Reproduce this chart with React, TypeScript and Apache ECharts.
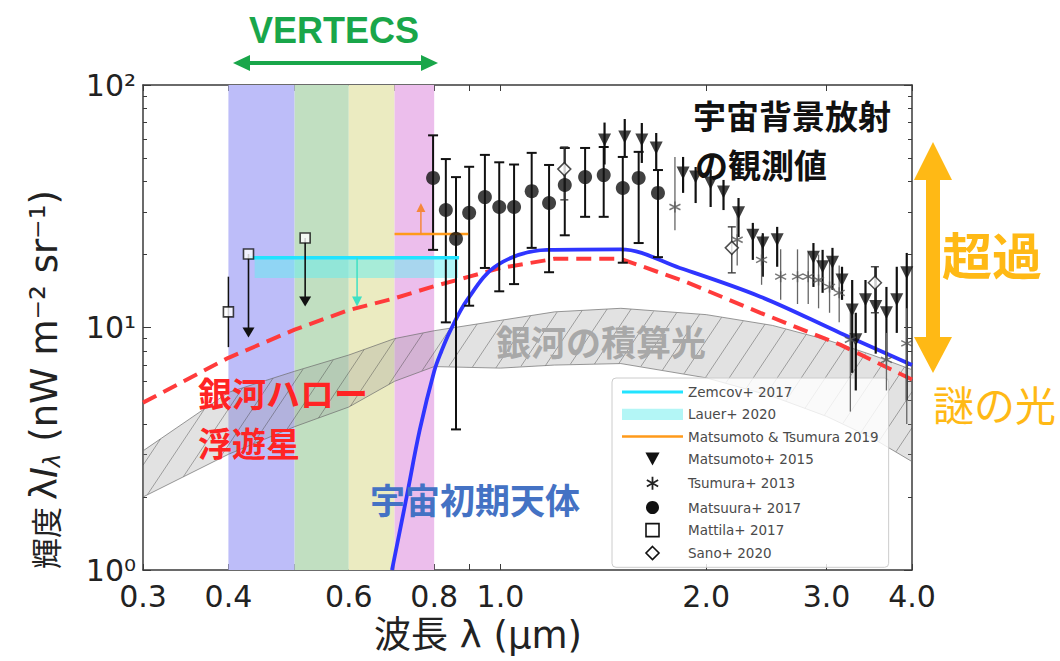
import React, { useEffect, useRef } from "react";
import * as echarts from "echarts";

// ---------- axes ----------
const xTickValues = [0.3, 0.4, 0.5, 0.6, 0.7, 0.8, 0.9, 1, 2, 3, 4];
const xLabelValues = [0.3, 0.4, 0.6, 0.8, 1, 2, 3, 4];
const yMajorValues = [1, 10, 100];
const yMinorValues = [2, 3, 4, 5, 6, 7, 8, 9, 20, 30, 40, 50, 60, 70, 80, 90];
const superscripts = ["⁰", "¹", "²"];

// ---------- VERTECS filter bands ----------
const filterEdges = [0.4, 0.5, 0.6, 0.7, 0.8];
const filterColors = ["#bdbdf9", "#c1dfc1", "#ebebc1", "#ecbeec"];

// ---------- integrated galaxy light (band) ----------
const galaxyX = [0.3, 0.4, 0.5, 0.6, 0.7, 0.8, 1.0, 1.2, 1.5, 2.0, 2.5, 3.0, 3.5, 4.0];
const galaxyUpper = [3.1, 5.4, 6.6, 7.7, 9.0, 9.7, 10.7, 11.6, 12.0, 11.3, 10.2, 8.9, 7.7, 6.7];
const galaxyLower = [2.0, 3.0, 3.9, 4.7, 6.0, 6.9, 6.8, 7.0, 7.1, 6.2, 5.2, 4.3, 3.5, 2.8];

// ---------- galactic halo / intrahalo stars (red dashed) ----------
const haloX = [0.3, 0.4, 0.5, 0.6, 0.7, 0.8, 0.9, 1.0, 1.2, 1.5, 1.87, 2.4, 3.14, 4.0];
const haloY = [4.9, 7.5, 9.8, 11.8, 13.2, 14.8, 16.2, 17.6, 19.2, 19.2, 15.4, 11.5, 8.5, 6.1];

// ---------- early-universe objects (blue) ----------
const earlyX = [0.694, 0.729, 0.762, 0.8, 0.82, 0.843, 0.894, 0.99, 1.17, 1.5, 1.83, 2.4, 3.14, 4.0];
const earlyY = [1.0, 2.0, 3.78, 6.6, 8.0, 9.6, 13, 18.1, 20.9, 21, 17.6, 13.4, 9.5, 7.0];

// ---------- Zemcov+ 2017 ----------
const zemcovX = [0.43, 0.87];
const zemcovY = [19.4, 19.4];
const zemcovArrow = [0.617, 19.4, 12.2];

// ---------- Lauer+ 2020 ----------
const lauerX = [0.437, 0.867];
const lauerY = [16.0, 19.4];

// ---------- Matsumoto & Tsumura 2019 ----------
const mtX = [0.7, 0.897];
const mtY = [24.3, 24.3];
const mtArrow = [0.765, 24.3, 32.6];

// ---------- Matsumoto+ 2015 (down triangles) ----------
const m15X = [1.42, 1.52, 1.61, 1.69, 1.85, 1.93, 2.03, 2.12, 2.23, 2.34, 2.42, 2.54, 2.87, 2.96, 3.06, 3.16, 3.27, 3.31, 3.42, 3.54, 3.67, 3.8, 3.93];
const m15Y = [59.3, 61, 59.3, 55, 43.4, 41.7, 39.4, 36.2, 29.7, 24, 22.3, 23, 19.5, 17.8, 18.6, 15.7, 11.8, 8.9, 13, 12.2, 11.5, 13, 16.8];
const m15Lo = [47, 50.5, 47.7, 44.6, 35.9, 32.6, 31.4, 30.5, 23.6, 19, 16.2, 17.8, 14.7, 13.9, 14.3, 13, 6.5, 5.5, 9.5, 7.8, 7.35, 9.5, 5.0];
const m15Hi = [70, 72.4, 69.7, 63.4, 50.5, 45.9, 44.6, 40.6, 34.2, 27, 24.5, 26, 22.3, 20.9, 21.3, 17.8, 15.7, 11.5, 15.7, 17.8, 14.7, 17.8, 20.3];

// ---------- Tsumura+ 2013 (asterisks) ----------
const t13X = [1.8, 2.22, 2.41, 2.57, 2.72, 2.82, 2.92, 3.03, 3.13, 3.25, 3.67, 3.93];
const t13Y = [31.4, 23, 19, 16.2, 16.2, 16.2, 15.7, 14.7, 13.9, 8.9, 7.35, 8.6];
const t13Lo = [25.2, 18, 15, 13, 12.5, 12.5, 12, 11.5, 10.5, 4.5, 5.5, 4.0];
const t13Hi = [50.5, 30, 24, 21, 21, 20.5, 20, 19, 18, 12, 9.5, 12];

// ---------- Matsuura+ 2017 (filled circles) ----------
const m17X = [0.797, 0.832, 0.861, 0.9, 0.949, 0.996, 1.047, 1.111, 1.178, 1.242, 1.33, 1.416, 1.51, 1.593, 1.7];
const m17Y = [41.4, 30.5, 23.2, 29.7, 34.5, 31.4, 31.4, 36.5, 32.6, 38.7, 41.7, 42.5, 37.6, 41.4, 35.9];
const m17Lo = [20.9, 10.5, 3.8, 12.3, 17.6, 14.1, 15.1, 21.3, 16.9, 24, 28.6, 28.6, 18.5, 22.3, 19.5];
const m17Hi = [62, 49.5, 41.7, 46, 51.5, 48, 47, 52.5, 46.8, 55, 55, 55.5, 50.5, 53, 44.6];

// ---------- Mattila+ 2017 (open squares) ----------
const mattilaX = [0.4, 0.428, 0.518];
const mattilaY = [11.6, 20.1, 23.4];
const mattilaErrX = [0.4];
const mattilaErrLo = [8.3];
const mattilaErrHi = [16.2];
const mattilaLimX = [0.428, 0.518];
const mattilaLimTo = [9.1, 12.2];

// ---------- Sano+ 2020 (open diamonds) ----------
const sanoX = [1.24, 2.18, 3.53];
const sanoY = [45, 21.3, 15.3];
const sanoLo = [33.6, 16.8, 11.5];
const sanoHi = [55.5, 26, 17.8];

const FONT = "'DejaVu Sans', 'Noto Sans CJK JP', sans-serif";
const CJK = "'Noto Sans CJK JP', sans-serif";
const LATIN = "'DejaVu Sans', sans-serif";

const TRI_DOWN = "path://M0,0L12,0L6,11Z";
const ASTERISK = "path://M6,0L6,12M0.8,3L11.2,9M0.8,9L11.2,3";
const SQUARE = "path://M0,0H10V10H0Z";
const DIAMOND = "path://M6,0L12,6L6,12L0,6Z";

function errorBars(name: string, xs: number[], lo: number[], hi: number[], color: string, width: number, cap: number) {
  return {
    type: "custom",
    name,
    z: 5,
    clip: true,
    silent: true,
    data: xs.map((x, i) => [x, lo[i], hi[i]]),
    encode: { x: 0, y: [1, 2] },
    renderItem: (_p: any, api: any) => {
      const x = api.value(0);
      const a = api.coord([x, api.value(2)]);
      const b = api.coord([x, api.value(1)]);
      const st = { stroke: color, lineWidth: width };
      const children: any[] = [{ type: "line", shape: { x1: a[0], y1: a[1], x2: b[0], y2: b[1] }, style: st }];
      if (cap > 0) {
        children.push({ type: "line", shape: { x1: a[0] - cap, y1: a[1], x2: a[0] + cap, y2: a[1] }, style: st });
        children.push({ type: "line", shape: { x1: b[0] - cap, y1: b[1], x2: b[0] + cap, y2: b[1] }, style: st });
      }
      return { type: "group", children };
    },
  };
}

function arrows(name: string, xs: number[], from: number[], to: number[], color: string, width: number, headW: number, headL: number) {
  return {
    type: "custom",
    name,
    z: 6,
    clip: true,
    silent: true,
    data: xs.map((x, i) => [x, from[i], to[i]]),
    encode: { x: 0, y: [1, 2] },
    renderItem: (_p: any, api: any) => {
      const x = api.value(0);
      const a = api.coord([x, api.value(1)]);
      const b = api.coord([x, api.value(2)]);
      const dir = b[1] > a[1] ? 1 : -1;
      return {
        type: "group",
        children: [
          { type: "line", shape: { x1: a[0], y1: a[1], x2: b[0], y2: b[1] - dir * headL * 0.6 }, style: { stroke: color, lineWidth: width } },
          {
            type: "polygon",
            shape: { points: [[b[0], b[1]], [b[0] - headW / 2, b[1] - dir * headL], [b[0] + headW / 2, b[1] - dir * headL]] },
            style: { fill: color },
          },
        ],
      };
    },
  };
}

function interp(pts: number[][], px: number) {
  if (px <= pts[0][0]) return pts[0][1];
  for (let i = 1; i < pts.length; i++) {
    if (px <= pts[i][0]) {
      const t = (px - pts[i - 1][0]) / (pts[i][0] - pts[i - 1][0]);
      return pts[i - 1][1] + t * (pts[i][1] - pts[i - 1][1]);
    }
  }
  return pts[pts.length - 1][1];
}

function label(text: string, x: number, y: number, fill: string, font: string, lineHeight = 36) {
  return {
    type: "text",
    x,
    y,
    z: 100,
    style: { text, fill, font, lineHeight, align: "left", verticalAlign: "middle", textAlign: "left", textVerticalAlign: "middle" },
  };
}

function buildOption() {
  const axisLineStyle = { color: "#3a3a3a", width: 1.5 };
  const tickStyle = { color: "#3a3a3a", width: 1 };
  const logX = { type: "log", logBase: 10, min: 0.3, max: 4, splitLine: { show: false } };
  const logY = { type: "log", logBase: 10, min: 1, max: 100, splitLine: { show: false } };

  return {
    animation: false,
    backgroundColor: "#ffffff",
    grid: { left: 143, right: 148, top: 85, bottom: 91, containLabel: false, outerBoundsMode: "none" },
    xAxis: [
      {
        ...logX,
        position: "bottom",
        axisLine: { show: true, lineStyle: axisLineStyle },
        axisTick: { show: true, inside: true, length: 6, customValues: xTickValues, lineStyle: tickStyle },
        axisLabel: {
          show: true,
          customValues: xLabelValues,
          formatter: (v: number) => v.toFixed(1),
          fontSize: 30,
          fontFamily: LATIN,
          color: "#222",
          margin: 11,
        },
        name: "波長 λ (μm)",
        nameLocation: "middle",
        nameGap: 47,
        nameTextStyle: { fontSize: 37, fontFamily: FONT, color: "#222", padding: [0, 99, 0, 0] },
      },
      {
        ...logX,
        position: "top",
        axisLine: { show: true, lineStyle: axisLineStyle },
        axisTick: { show: true, inside: true, length: 6, customValues: xTickValues, lineStyle: tickStyle },
        axisLabel: { show: false },
      },
    ],
    yAxis: [
      {
        ...logY,
        position: "left",
        axisLine: { show: true, lineStyle: axisLineStyle },
        axisTick: { show: true, inside: true, length: 8, customValues: yMajorValues, lineStyle: tickStyle },
        axisLabel: {
          show: true,
          customValues: yMajorValues,
          formatter: (v: number) => "10" + superscripts[Math.round(Math.log10(v))],
          fontSize: 30,
          fontFamily: LATIN,
          color: "#222",
          margin: 7,
        },
        name: "{c|輝度 }{m|λ}{i|I}{s|λ}{m| (nW m⁻² sr⁻¹)}{p|}",
        nameLocation: "middle",
        nameRotate: 90,
        nameGap: 80,
        nameTextStyle: {
          fontSize: 37,
          fontFamily: FONT,
          color: "#222",
          rich: {
            c: { fontSize: 31, fontFamily: CJK, color: "#222" },
            m: { fontSize: 37, fontFamily: LATIN, color: "#222" },
            i: { fontSize: 37, fontStyle: "italic", fontFamily: LATIN, color: "#222" },
            s: { fontSize: 23, fontStyle: "italic", verticalAlign: "bottom", fontFamily: LATIN, color: "#222" },
            p: { width: 104, fontSize: 37 },
          },
        },
      },
      {
        ...logY,
        position: "left",
        axisLine: { show: false },
        axisTick: { show: true, inside: true, length: 4, customValues: yMinorValues, lineStyle: tickStyle },
        axisLabel: { show: false },
      },
      {
        ...logY,
        position: "right",
        axisLine: { show: true, lineStyle: axisLineStyle },
        axisTick: { show: true, inside: true, length: 8, customValues: yMajorValues, lineStyle: tickStyle },
        axisLabel: { show: false },
      },
      {
        ...logY,
        position: "right",
        axisLine: { show: false },
        axisTick: { show: true, inside: true, length: 4, customValues: yMinorValues, lineStyle: tickStyle },
        axisLabel: { show: false },
      },
    ],
    legend: {
      orient: "vertical",
      left: 612,
      top: 378,
      padding: [7, 10, 7, 10],
      itemGap: 8.3,
      itemWidth: 61,
      itemHeight: 13,
      backgroundColor: "rgba(255,255,255,0.82)",
      borderColor: "#cccccc",
      borderWidth: 1,
      borderRadius: 4,
      selectedMode: false,
      textStyle: { fontSize: 13.5, color: "#4a4a4a", fontFamily: LATIN },
      data: [
        { name: "Zemcov+ 2017", icon: "path://M0,0H60V3H0Z", itemStyle: { color: "#22e3ff", borderWidth: 0 } },
        { name: "Lauer+ 2020", icon: "path://M0,0H60V11H0Z", itemStyle: { color: "#b3f6f6", borderWidth: 0 } },
        { name: "Matsumoto & Tsumura 2019", icon: "path://M0,0H60V2.5H0Z", itemStyle: { color: "#ff9a1a", borderWidth: 0 } },
        { name: "Matsumoto+ 2015", icon: TRI_DOWN, itemStyle: { color: "#111", borderWidth: 0 } },
        { name: "Tsumura+ 2013", icon: ASTERISK, itemStyle: { color: "none", borderColor: "#222", borderWidth: 1.8 } },
        { name: "Matsuura+ 2017", icon: "circle", itemStyle: { color: "#111", borderWidth: 0 } },
        { name: "Mattila+ 2017", icon: SQUARE, itemStyle: { color: "#fff", borderColor: "#111", borderWidth: 1.6 } },
        { name: "Sano+ 2020", icon: DIAMOND, itemStyle: { color: "#fff", borderColor: "#111", borderWidth: 1.6 } },
      ],
    },
    graphic: [
      {
        type: "text",
        x: 334,
        y: 30,
        z: 100,
        style: { text: "VERTECS", fill: "#19a64a", font: "bold 36px 'Liberation Sans', Arial, sans-serif", align: "center", verticalAlign: "middle", textAlign: "center", textVerticalAlign: "middle" },
      },
      { type: "line", z: 100, shape: { x1: 246, y1: 63, x2: 425, y2: 63 }, style: { stroke: "#19a64a", lineWidth: 4 } },
      { type: "polygon", z: 100, shape: { points: [[233, 63], [250, 55], [250, 71]] }, style: { fill: "#19a64a" } },
      { type: "polygon", z: 100, shape: { points: [[438, 63], [421, 55], [421, 71]] }, style: { fill: "#19a64a" } },
      label("宇宙背景放射", 693, 115, "#111", `bold 33px ${CJK}`, 48),
      label("の観測値", 695, 164, "#111", `bold 33px ${CJK}`, 48),
      label("銀河の積算光", 496, 340, "#a8a8a8", `bold 35px ${CJK}`),
      label("銀河ハロー", 198, 392, "#ff2424", `bold 34px ${CJK}`, 48),
      label("浮遊星", 198, 442, "#ff2424", `bold 34px ${CJK}`, 48),
      label("宇宙初期天体", 370, 498, "#4472c4", `bold 35px ${CJK}`),
      {
        type: "polygon",
        z: 100,
        shape: {
          points: [
            [933, 142], [914, 180], [926, 180], [926, 337], [914, 337],
            [933, 373], [952, 337], [940, 337], [940, 180], [952, 180],
          ],
        },
        style: { fill: "#ffb915" },
      },
      label("超過", 942, 253, "#ffb915", `bold 50px ${CJK}`),
      label("謎の光", 933, 403, "#ffb915", `41px ${CJK}`),
    ],
    series: [
      // filter bands
      {
        type: "custom",
        name: "VERTECS bands",
        z: 1,
        silent: true,
        data: filterColors.map((_, i) => [filterEdges[i], filterEdges[i + 1], 1, 100]),
        encode: { x: [0, 1], y: [2, 3] },
        renderItem: (params: any, api: any) => {
          const a = api.coord([api.value(0), api.value(3)]);
          const b = api.coord([api.value(1), api.value(2)]);
          return {
            type: "rect",
            shape: { x: a[0], y: a[1], width: b[0] - a[0], height: b[1] - a[1] },
            style: { fill: filterColors[params.dataIndex] },
          };
        },
      },
      // galaxy integrated light band with hatching
      {
        type: "custom",
        name: "銀河の積算光",
        z: 2,
        clip: true,
        silent: true,
        data: [[galaxyX[0], galaxyLower[0], galaxyUpper[0]]],
        encode: { x: 0, y: [1, 2] },
        renderItem: (_p: any, api: any) => {
          const up = galaxyX.map((x, i) => api.coord([x, galaxyUpper[i]]));
          const lo = galaxyX.map((x, i) => api.coord([x, galaxyLower[i]]));
          const poly = up.concat(lo.slice().reverse());
          const xL = up[0][0];
          const xR = up[up.length - 1][0];
          const k = 1.5;
          const step = 36;
          let cmin = Infinity;
          let cmax = -Infinity;
          for (let x = xL; x <= xR; x += 1) {
            cmin = Math.min(cmin, interp(up, x) + k * x);
            cmax = Math.max(cmax, interp(lo, x) + k * x);
          }
          const hatch: any[] = [];
          for (let c = cmin + step * 0.4; c < cmax; c += step) {
            let seg: number[] | null = null;
            for (let x = xL; x <= xR; x += 0.5) {
              const y = c - k * x;
              const inside = y >= interp(up, x) && y <= interp(lo, x);
              if (inside) {
                if (!seg) seg = [x, y, x, y];
                else {
                  seg[2] = x;
                  seg[3] = y;
                }
              } else if (seg) {
                hatch.push(seg);
                seg = null;
              }
            }
            if (seg) hatch.push(seg);
          }
          return {
            type: "group",
            children: [
              { type: "polygon", shape: { points: poly }, style: { fill: "rgba(150,150,150,0.28)", stroke: "rgba(110,110,110,0.7)", lineWidth: 1 } },
              ...hatch.map((s) => ({
                type: "line",
                shape: { x1: s[0], y1: s[1], x2: s[2], y2: s[3] },
                style: { stroke: "rgba(70,70,70,0.55)", lineWidth: 0.8 },
              })),
            ],
          };
        },
      },
      // Lauer+ 2020 band
      {
        type: "custom",
        name: "Lauer+ 2020",
        z: 3,
        silent: true,
        data: [[lauerX[0], lauerX[1], lauerY[0], lauerY[1]]],
        encode: { x: [0, 1], y: [2, 3] },
        renderItem: (_p: any, api: any) => {
          const a = api.coord([api.value(0), api.value(3)]);
          const b = api.coord([api.value(1), api.value(2)]);
          return {
            type: "rect",
            shape: { x: a[0], y: a[1], width: b[0] - a[0], height: b[1] - a[1] },
            style: { fill: "rgba(100,238,240,0.5)" },
          };
        },
      },
      // model curves
      {
        type: "line",
        name: "銀河ハロー浮遊星",
        z: 4,
        symbol: "none",
        silent: true,
        data: haloX.map((x, i) => [x, haloY[i]]),
        lineStyle: { color: "#ff3b3b", width: 4, type: [15, 8] },
      },
      {
        type: "line",
        name: "宇宙初期天体",
        z: 4,
        symbol: "none",
        smooth: 0.35,
        silent: true,
        clip: true,
        data: earlyX.map((x, i) => [x, earlyY[i]]),
        lineStyle: { color: "#2f35ff", width: 3.8 },
      },
      {
        type: "line",
        name: "Zemcov+ 2017",
        z: 5,
        symbol: "none",
        silent: true,
        data: zemcovX.map((x, i) => [x, zemcovY[i]]),
        lineStyle: { color: "#22e3ff", width: 3.5 },
      },
      arrows("Zemcov+ 2017", [zemcovArrow[0]], [zemcovArrow[1]], [zemcovArrow[2]], "#3fe0c4", 1.5, 10, 10),
      {
        type: "line",
        name: "Matsumoto & Tsumura 2019",
        z: 5,
        symbol: "none",
        silent: true,
        data: mtX.map((x, i) => [x, mtY[i]]),
        lineStyle: { color: "#ff9a1a", width: 2.5 },
      },
      arrows("Matsumoto & Tsumura 2019", [mtArrow[0]], [mtArrow[1]], [mtArrow[2]], "#f5883a", 1.5, 9, 9),
      // observations
      errorBars("Matsumoto+ 2015", m15X, m15Lo, m15Hi, "#111", 2.2, 0),
      errorBars("Tsumura+ 2013", t13X, t13Lo, t13Hi, "#666", 1.3, 0),
      errorBars("Matsuura+ 2017", m17X, m17Lo, m17Hi, "#111", 2, 5),
      errorBars("Sano+ 2020", sanoX, sanoLo, sanoHi, "#333", 1.3, 4),
      errorBars("Mattila+ 2017", mattilaErrX, mattilaErrLo, mattilaErrHi, "#111", 1.5, 0),
      arrows("Mattila+ 2017", mattilaLimX, mattilaY.slice(1), mattilaLimTo, "#111", 1.6, 12, 10),
      {
        type: "scatter",
        name: "Matsumoto+ 2015",
        z: 7,
        symbol: TRI_DOWN,
        symbolSize: 13,
        silent: true,
        data: m15X.map((x, i) => [x, m15Y[i]]),
        itemStyle: { color: "#111" },
      },
      {
        type: "scatter",
        name: "Tsumura+ 2013",
        z: 7,
        symbol: ASTERISK,
        symbolSize: 11,
        silent: true,
        data: t13X.map((x, i) => [x, t13Y[i]]),
        itemStyle: { color: "none", borderColor: "#555", borderWidth: 1.5 },
      },
      {
        type: "scatter",
        name: "Matsuura+ 2017",
        z: 7,
        symbol: "circle",
        symbolSize: 14,
        silent: true,
        data: m17X.map((x, i) => [x, m17Y[i]]),
        itemStyle: { color: "#111" },
      },
      {
        type: "scatter",
        name: "Mattila+ 2017",
        z: 7,
        symbol: "rect",
        symbolSize: 10,
        silent: true,
        data: mattilaX.map((x, i) => [x, mattilaY[i]]),
        itemStyle: { color: "#fff", borderColor: "#111", borderWidth: 1.6 },
      },
      {
        type: "scatter",
        name: "Sano+ 2020",
        z: 7,
        symbol: "diamond",
        symbolSize: 13,
        silent: true,
        data: sanoX.map((x, i) => [x, sanoY[i]]),
        itemStyle: { color: "#fff", borderColor: "#222", borderWidth: 1.5 },
      },
    ],
  };
}

export default function App() {
  const ref = useRef<HTMLDivElement>(null);
  useEffect(() => {
    if (!ref.current) return;
    const chart = echarts.init(ref.current, undefined, { renderer: "svg" });
    chart.setOption(buildOption() as any);
    return () => chart.dispose();
  }, []);
  return (
    <div
      ref={ref}
      style={{ position: "absolute", left: 0, top: 0, width: 1060, height: 661, background: "#fff" }}
    />
  );
}
